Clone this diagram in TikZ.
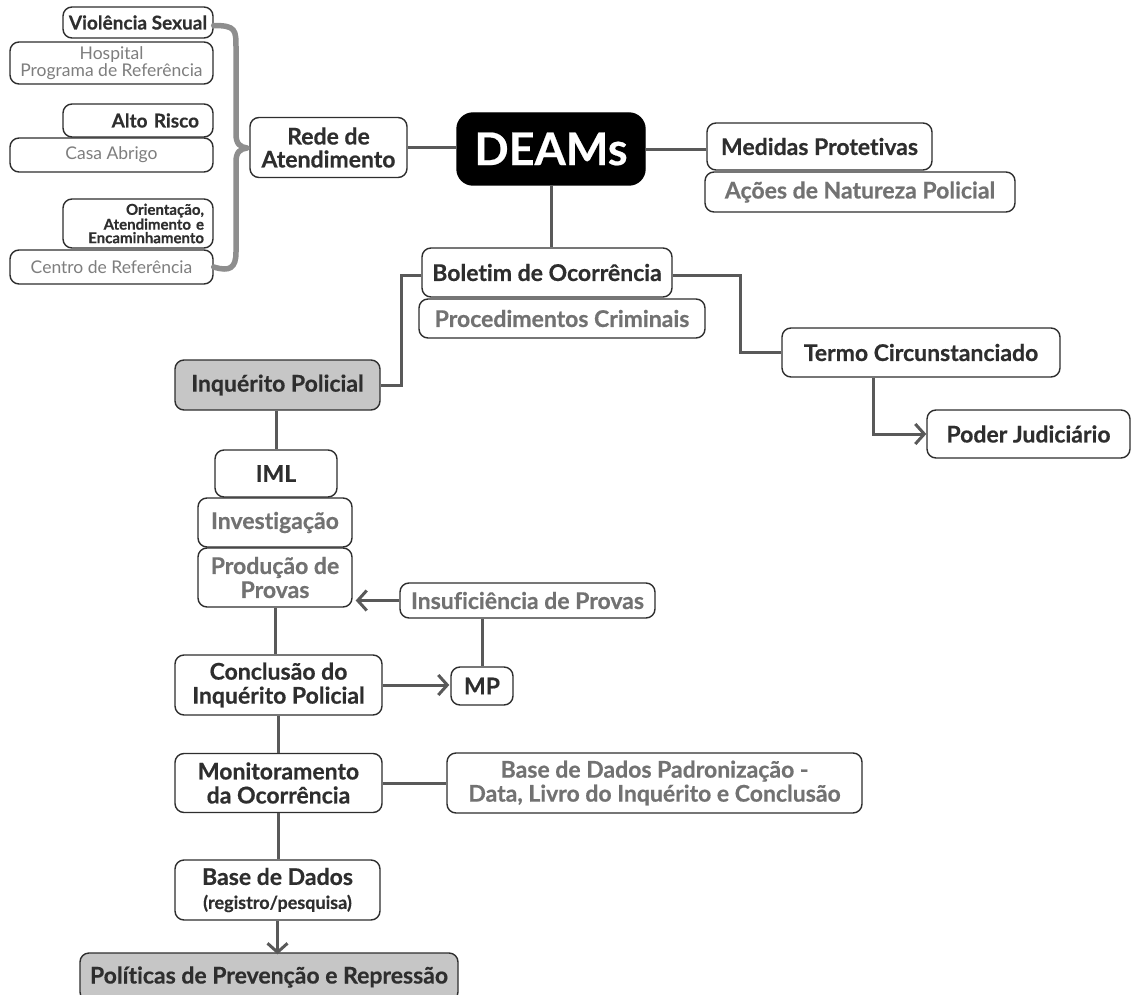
\documentclass[tikz,border=0pt]{standalone}
\usepackage{fontspec}
\setmainfont{Lato}[Ligatures=NoCommon, BoldFeatures={FakeBold=0.5}]
\usetikzlibrary{arrows.meta}
\definecolor{ink}{HTML}{2E2E2E}
\definecolor{soft}{HTML}{727272}
\definecolor{lighttext}{HTML}{7E7E7E}
\definecolor{edge}{HTML}{595959}
\definecolor{shade}{HTML}{C6C6C6}
\definecolor{bracecol}{HTML}{8E8E8E}
\tikzset{
  box/.style={draw=ink, line width=1.4pt, rounded corners=9pt, fill=white, inner sep=0pt,
    align=center, text=ink, font=\bfseries\fontsize{23}{24}\selectfont},
  sz/.style 2 args={minimum width=#1, minimum height=#2},
  dim/.style={text=soft},
  small/.style={font=\bfseries\fontsize{19}{20}\selectfont},
  light/.style={text=lighttext, font=\fontsize{17.5}{17}\selectfont},
  grayfill/.style={fill=shade},
  conn/.style={draw=edge, line width=3pt},
  arr/.style={conn, -{Straight Barb[length=9pt,width=20pt]}},
  bracketline/.style={draw=bracecol, line width=5.5pt, line cap=round, line join=round},
}
\begin{document}
\begin{tikzpicture}[x=1pt,y=-1pt]
\useasboundingbox (0,0) rectangle (1132,995);
\clip (0,0) rectangle (1132,995);

% left cluster
\node[box, sz={203pt}{42pt}, light] (hosp) at (111.5,63) {Hospital\\Programa de Referência};
\node[box, sz={150pt}{31pt}, small] (vs) at (138,22.5) {Violência Sexual};
\node[box, sz={203pt}{34pt}, light] (casa) at (111.5,155) {Casa Abrigo};
\node[box, sz={150pt}{33pt}, small, text width=122pt, align=right] (alto) at (138,120.5) {Alto Risco};
\node[box, sz={203pt}{34pt}, light] (centro) at (111.5,267) {Centro de Referência};
\node[box, sz={150pt}{49pt}, text width=132pt, align=right, font=\bfseries\fontsize{15}{13.5}\selectfont] (ori) at (138,223.5) {Orientação,\\Atendimento e\\Encaminhamento};

\node[box, sz={157pt}{60pt}, font=\bfseries\fontsize{23}{23}\selectfont] (rede) at (328.5,147.5) {Rede de\\Atendimento};

\draw[bracketline] (vs.east) ++(0,3) .. controls (236,25.5) and (236,30) .. (236,48)
  -- (236,134) .. controls (236,144) and (240,147) .. (247,148)
  .. controls (240,149) and (236,152) .. (236,162)
  -- (236,252) .. controls (236,268) and (230,272) .. (centro.east);

% DEAMs
\node[box, sz={188pt}{72pt}, fill=black, draw=black, rounded corners=16pt, text=white,
  font=\bfseries\fontsize{45}{45}\selectfont] (deams) at (551,149) {DEAMs};

\node[box, sz={310pt}{40pt}, dim] (acoes) at (860,192) {Ações de Natureza Policial};
\node[box, sz={225pt}{47pt}] (med) at (819.5,146.5) {Medidas Protetivas};

\draw[conn] (rede.east) -- (rede.east -| deams.west);
\draw[conn] ([yshift=-1pt]deams.east) -- ([yshift=-1pt]deams.east -| med.west);

% Boletim
\node[box, sz={286pt}{39pt}, dim] (proc) at (562,318.5) {Procedimentos Criminais};
\node[box, sz={250pt}{49pt}] (bol) at (547,272.5) {Boletim de Ocorrência};
\draw[conn] (deams.south) -- (deams.south |- bol.north);

\node[box, sz={205pt}{50pt}, grayfill] (inq) at (277.5,385) {Inquérito Policial};
\node[box, sz={278pt}{49pt}] (termo) at (921,352.5) {Termo Circunstanciado};
\node[box, sz={203pt}{48pt}] (poder) at (1028.5,434) {Poder Judiciário};

\draw[conn] ([yshift=-3pt]bol.west) -- ++(-20,0) |- (inq.east);
\draw[conn] ([yshift=-3pt]bol.east) -- ++(68,0) |- (termo.west);
\draw[arr] ([xshift=-48pt]termo.south) |- (poder.west);

% left chain
\node[box, sz={122pt}{47pt}] (iml) at (276,473.5) {IML};
\node[box, sz={154pt}{49pt}, dim] (inv) at (275,522.5) {Investigação};
\node[box, sz={154pt}{59pt}, dim] (prod) at (275,577.5) {Produção de\\Provas};
\node[box, sz={255pt}{35pt}, dim] (insuf) at (527.5,600.5) {Insuficiência de Provas};
\node[box, sz={207pt}{60pt}] (conc) at (278.5,685) {Conclusão do\\Inquérito Policial};
\node[box, sz={62pt}{38pt}] (mp) at (482,686) {MP};
\node[box, sz={207pt}{59pt}] (mon) at (278.5,783) {Monitoramento\\da Ocorrência};
\node[box, sz={415pt}{60pt}, dim] (pad) at (654.5,783) {Base de Dados Padronização -\\Data, Livro do Inquérito e Conclusão};
\node[box, sz={205pt}{60pt}] (base) at (277.5,890) {Base de Dados\\{\fontsize{18}{19}\selectfont(registro/pesquisa)}};
\node[box, sz={378pt}{48pt}, grayfill] (pol) at (269,977) {Políticas de Prevenção e Repressão};

\draw[conn] (inq.south -| iml.north) -- (iml.north);
\draw[conn] (prod.south) -- (prod.south |- conc.north);
\draw[arr] (insuf.west) -- ([xshift=3pt]insuf.west -| prod.east);
\draw[conn] (insuf.south -| mp.north) -- (mp.north);
\draw[arr] (conc.east) -- ([xshift=-1pt]conc.east -| mp.west);
\draw[conn] (conc.south) -- (conc.south |- mon.north);
\draw[conn] (mon.east) -- (mon.east -| pad.west);
\draw[conn] (mon.south) -- (mon.south |- base.north);
\draw[arr] (base.south) -- ([yshift=-2pt]base.south |- pol.north);
\end{tikzpicture}
\end{document}
